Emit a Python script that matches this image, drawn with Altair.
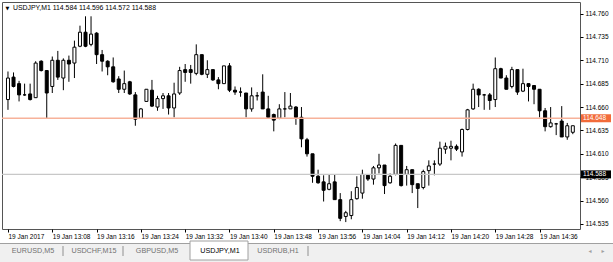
import altair as alt
import pandas as pd

# ---- data ----
opens = [114.668, 114.692, 114.685, 114.673, 114.674, 114.670, 114.709, 114.699, 114.682, 114.710,
         114.691, 114.710, 114.707, 114.725, 114.740, 114.727, 114.739, 114.716, 114.709, 114.703,
         114.690, 114.679, 114.687, 114.673, 114.648, 114.666, 114.678, 114.660, 114.669, 114.672,
         114.659, 114.675, 114.700, 114.700, 114.696, 114.716, 114.695, 114.700, 114.689, 114.685,
         114.704, 114.678, 114.676, 114.675, 114.658, 114.672, 114.676, 114.658, 114.652, 114.648,
         114.658, 114.658, 114.660, 114.649, 114.625, 114.610, 114.586, 114.580, 114.572, 114.580,
         114.561, 114.543, 114.544, 114.562, 114.568, 114.587, 114.583, 114.595, 114.598, 114.579,
         114.588, 114.619, 114.588, 114.593, 114.578, 114.574, 114.592, 114.599, 114.599, 114.615,
         114.616, 114.618, 114.612, 114.636, 114.658, 114.679, 114.673, 114.673, 114.668, 114.701,
         114.691, 114.682, 114.700, 114.677, 114.685, 114.683, 114.679, 114.656, 114.639, 114.642,
         114.645, 114.628, 114.633]
highs = [114.698, 114.697, 114.688, 114.685, 114.685, 114.709, 114.710, 114.699, 114.714, 114.720,
         114.712, 114.715, 114.731, 114.747, 114.757, 114.757, 114.740, 114.721, 114.710, 114.713,
         114.693, 114.699, 114.688, 114.676, 114.659, 114.679, 114.689, 114.672, 114.675, 114.675,
         114.686, 114.703, 114.706, 114.705, 114.727, 114.716, 114.710, 114.700, 114.692, 114.704,
         114.707, 114.682, 114.681, 114.675, 114.681, 114.676, 114.695, 114.672, 114.653, 114.663,
         114.676, 114.675, 114.661, 114.660, 114.627, 114.610, 114.593, 114.587, 114.588, 114.588,
         114.568, 114.549, 114.570, 114.586, 114.593, 114.588, 114.597, 114.610, 114.598, 114.589,
         114.621, 114.619, 114.597, 114.593, 114.578, 114.593, 114.603, 114.603, 114.623, 114.622,
         114.624, 114.620, 114.637, 114.658, 114.685, 114.680, 114.674, 114.675, 114.713, 114.702,
         114.694, 114.703, 114.700, 114.701, 114.685, 114.683, 114.679, 114.659, 114.660, 114.643,
         114.661, 114.643, 114.640]
lows = [114.657, 114.681, 114.666, 114.672, 114.667, 114.670, 114.698, 114.648, 114.675, 114.689,
        114.678, 114.687, 114.691, 114.724, 114.724, 114.725, 114.706, 114.698, 114.694, 114.686,
        114.675, 114.675, 114.673, 114.640, 114.648, 114.666, 114.660, 114.656, 114.658, 114.652,
        114.649, 114.673, 114.687, 114.685, 114.694, 114.694, 114.691, 114.688, 114.679, 114.685,
        114.676, 114.673, 114.671, 114.649, 114.655, 114.667, 114.658, 114.648, 114.634, 114.647,
        114.649, 114.658, 114.641, 114.617, 114.607, 114.579, 114.578, 114.559, 114.571, 114.561,
        114.538, 114.537, 114.540, 114.561, 114.562, 114.581, 114.577, 114.589, 114.567, 114.578,
        114.587, 114.575, 114.576, 114.568, 114.552, 114.572, 114.576, 114.587, 114.597, 114.610,
        114.603, 114.613, 114.607, 114.635, 114.657, 114.660, 114.657, 114.657, 114.660, 114.691,
        114.679, 114.680, 114.673, 114.676, 114.666, 114.663, 114.649, 114.634, 114.638, 114.630,
        114.628, 114.625, 114.631]
closes = [114.691, 114.682, 114.673, 114.673, 114.668, 114.707, 114.699, 114.675, 114.710, 114.692,
          114.710, 114.706, 114.724, 114.740, 114.725, 114.738, 114.716, 114.709, 114.703, 114.687,
          114.679, 114.685, 114.674, 114.647, 114.658, 114.679, 114.661, 114.669, 114.672, 114.659,
          114.674, 114.699, 114.697, 114.697, 114.716, 114.695, 114.700, 114.689, 114.685, 114.704,
          114.678, 114.676, 114.676, 114.658, 114.672, 114.672, 114.658, 114.649, 114.646, 114.658,
          114.658, 114.661, 114.649, 114.626, 114.610, 114.586, 114.579, 114.571, 114.578, 114.561,
          114.541, 114.547, 114.561, 114.574, 114.588, 114.583, 114.595, 114.598, 114.576, 114.586,
          114.619, 114.576, 114.593, 114.577, 114.573, 114.591, 114.597, 114.599, 114.616, 114.618,
          114.618, 114.615, 114.636, 114.657, 114.679, 114.673, 114.673, 114.667, 114.701, 114.691,
          114.679, 114.700, 114.676, 114.685, 114.682, 114.679, 114.656, 114.639, 114.643, 114.642,
          114.628, 114.640, 114.640]

x_tick_bars = [0, 8, 16, 24, 32, 40, 48, 56, 64, 72, 80, 88, 96]
x_tick_labels = ["19 Jan 2017", "19 Jan 13:08", "19 Jan 13:16", "19 Jan 13:24", "19 Jan 13:32",
                 "19 Jan 13:40", "19 Jan 13:48", "19 Jan 13:56", "19 Jan 14:04", "19 Jan 14:12",
                 "19 Jan 14:20", "19 Jan 14:28", "19 Jan 14:36"]
y_ticks = [114.535, 114.560, 114.585, 114.610, 114.635, 114.660, 114.685, 114.710, 114.735, 114.760]

symbol = "USDJPY,M1"
header_ohlc = ["114.584", "114.596", "114.572", "114.588"]
marker_levels = [114.648, 114.588]
marker_colors = ["#F26B3A", "#000000"]
line_colors = ["#F7B29A", "#C8C8C8"]
tabs = ["EURUSD,M5", "USDCHF,M15", "GBPUSD,M5", "USDJPY,M1", "USDRUB,H1"]
active_tab = "USDJPY,M1"

# ---- layout ----
W, H = 578, 227
FONT = "Liberation Sans"
FS = 6.5

df = pd.DataFrame({"bar": list(range(len(opens))), "open": opens, "high": highs,
                   "low": lows, "close": closes})

xscale = alt.Scale(domain=[-0.1775, 102.397], nice=False, zero=False)
yscale = alt.Scale(domain=[114.5296, 114.7723], nice=False, zero=False)

label_js = "[" + ",".join("'" + s + "'" for s in x_tick_labels) + "]"

xaxis = alt.Axis(values=x_tick_bars, labelExpr=label_js + "[round(datum.value/8)]",
                 title=None, grid=False, domain=False, tickSize=3, tickColor="#000",
                 labelAlign="left", labelBaseline="top", labelPadding=1,
                 labelFont=FONT, labelFontSize=FS, labelColor="#000",
                 labelOverlap=False, labelFlush=False)
yaxis = alt.Axis(values=y_ticks, format=".3f", orient="right", title=None, grid=False,
                 domain=False, tickSize=3, tickColor="#000", labelPadding=2,
                 labelFont=FONT, labelFontSize=FS, labelColor="#000", labelOverlap=False,
                 labelFlush=False)

base = alt.Chart(df)

wicks = base.mark_rule(color="#000", strokeWidth=1).encode(
    x=alt.X("bar:Q", scale=xscale, axis=xaxis),
    y=alt.Y("low:Q", scale=yscale, axis=yaxis),
    y2="high:Q",
)
bodies = base.mark_bar(size=3, stroke="#000", strokeWidth=1).encode(
    x=alt.X("bar:Q", scale=xscale, axis=xaxis),
    y=alt.Y("open:Q", scale=yscale, axis=yaxis),
    y2="close:Q",
    fill=alt.condition("datum.close >= datum.open", alt.value("white"), alt.value("black")),
)

lv = pd.DataFrame({"level": marker_levels, "box": marker_colors, "line": line_colors,
                   "txt": ["%.3f" % v for v in marker_levels]})
lines = alt.Chart(lv).mark_rule(strokeWidth=1.4).encode(
    y=alt.Y("level:Q", scale=yscale, axis=yaxis),
    color=alt.Color("line:N", scale=None),
)
boxes = alt.Chart(lv).mark_rect(yOffset=-4, y2Offset=4).encode(
    x=alt.value(W + 1), x2=alt.value(W + 31),
    y=alt.Y("level:Q", scale=yscale, axis=yaxis), y2="level:Q",
    color=alt.Color("box:N", scale=None),
)
box_txt = alt.Chart(lv).mark_text(align="left", baseline="middle", font=FONT, fontSize=FS,
                                  color="white").encode(
    x=alt.value(W + 3), y=alt.Y("level:Q", scale=yscale, axis=yaxis), text="txt:N",
)

one = pd.DataFrame({"t": [symbol + "  " + " ".join(header_ohlc)]})
header = alt.Chart(one).mark_text(align="left", baseline="middle", font=FONT, fontSize=6.9,
                                  color="#000").encode(
    x=alt.value(11), y=alt.value(6), text="t:N")
tri = alt.Chart(one).mark_text(align="center", baseline="middle", font="DejaVu Sans",
                               fontSize=5, color="#000", text="\u25BC").encode(
    x=alt.value(5.5), y=alt.value(6))

# tab bar (UI chrome under the chart)
tab_bg = alt.Chart(one).mark_rect(color="#F0F0F0").encode(
    x=alt.value(-2), x2=alt.value(611), y=alt.value(241), y2=alt.value(260))
tab_line_l = alt.Chart(one).mark_rule(color="#A0A0A0").encode(
    x=alt.value(-2), x2=alt.value(188), y=alt.value(241.5))
tab_line_r = alt.Chart(one).mark_rule(color="#A0A0A0").encode(
    x=alt.value(246), x2=alt.value(611), y=alt.value(241.5))
active_bg = alt.Chart(one).mark_rect(color="white", stroke="#A0A0A0", strokeWidth=1).encode(
    x=alt.value(188), x2=alt.value(246), y=alt.value(239), y2=alt.value(258))
tab_centers = [31, 92, 155, 218, 276]
seps = [61, 121, 306]
layers = [tab_bg, tab_line_l, tab_line_r, active_bg]
for name, cx in zip(tabs, tab_centers):
    layers.append(alt.Chart(one).mark_text(
        align="center", baseline="middle", font=FONT, fontSize=7.2,
        color="#000" if name == active_tab else "#707070", text=name).encode(
        x=alt.value(cx), y=alt.value(249)))
for sx in seps:
    layers.append(alt.Chart(one).mark_rule(color="#909090").encode(
        x=alt.value(sx), y=alt.value(244), y2=alt.value(254)))
for ax_, ch in [(588, "\u25C2"), (601, "\u25B8")]:
    layers.append(alt.Chart(one).mark_text(
        align="center", baseline="middle", font="DejaVu Sans", fontSize=6,
        color="#A0A0A0", text=ch).encode(x=alt.value(ax_), y=alt.value(249)))

chart = alt.layer(wicks, bodies, lines, boxes, box_txt, header, tri, *layers).properties(
    width=W, height=H,
    padding={"left": 2, "top": 2, "right": 33, "bottom": 33},
    autosize=alt.AutoSizeParams(type="none"),
    background="white",
).configure_view(stroke="#555555", strokeWidth=1
).configure_axis(labelOverlap=False, labelFlush=False, labelBound=False)

chart.save("out.html", embed_options={"renderer": "svg", "actions": False})
